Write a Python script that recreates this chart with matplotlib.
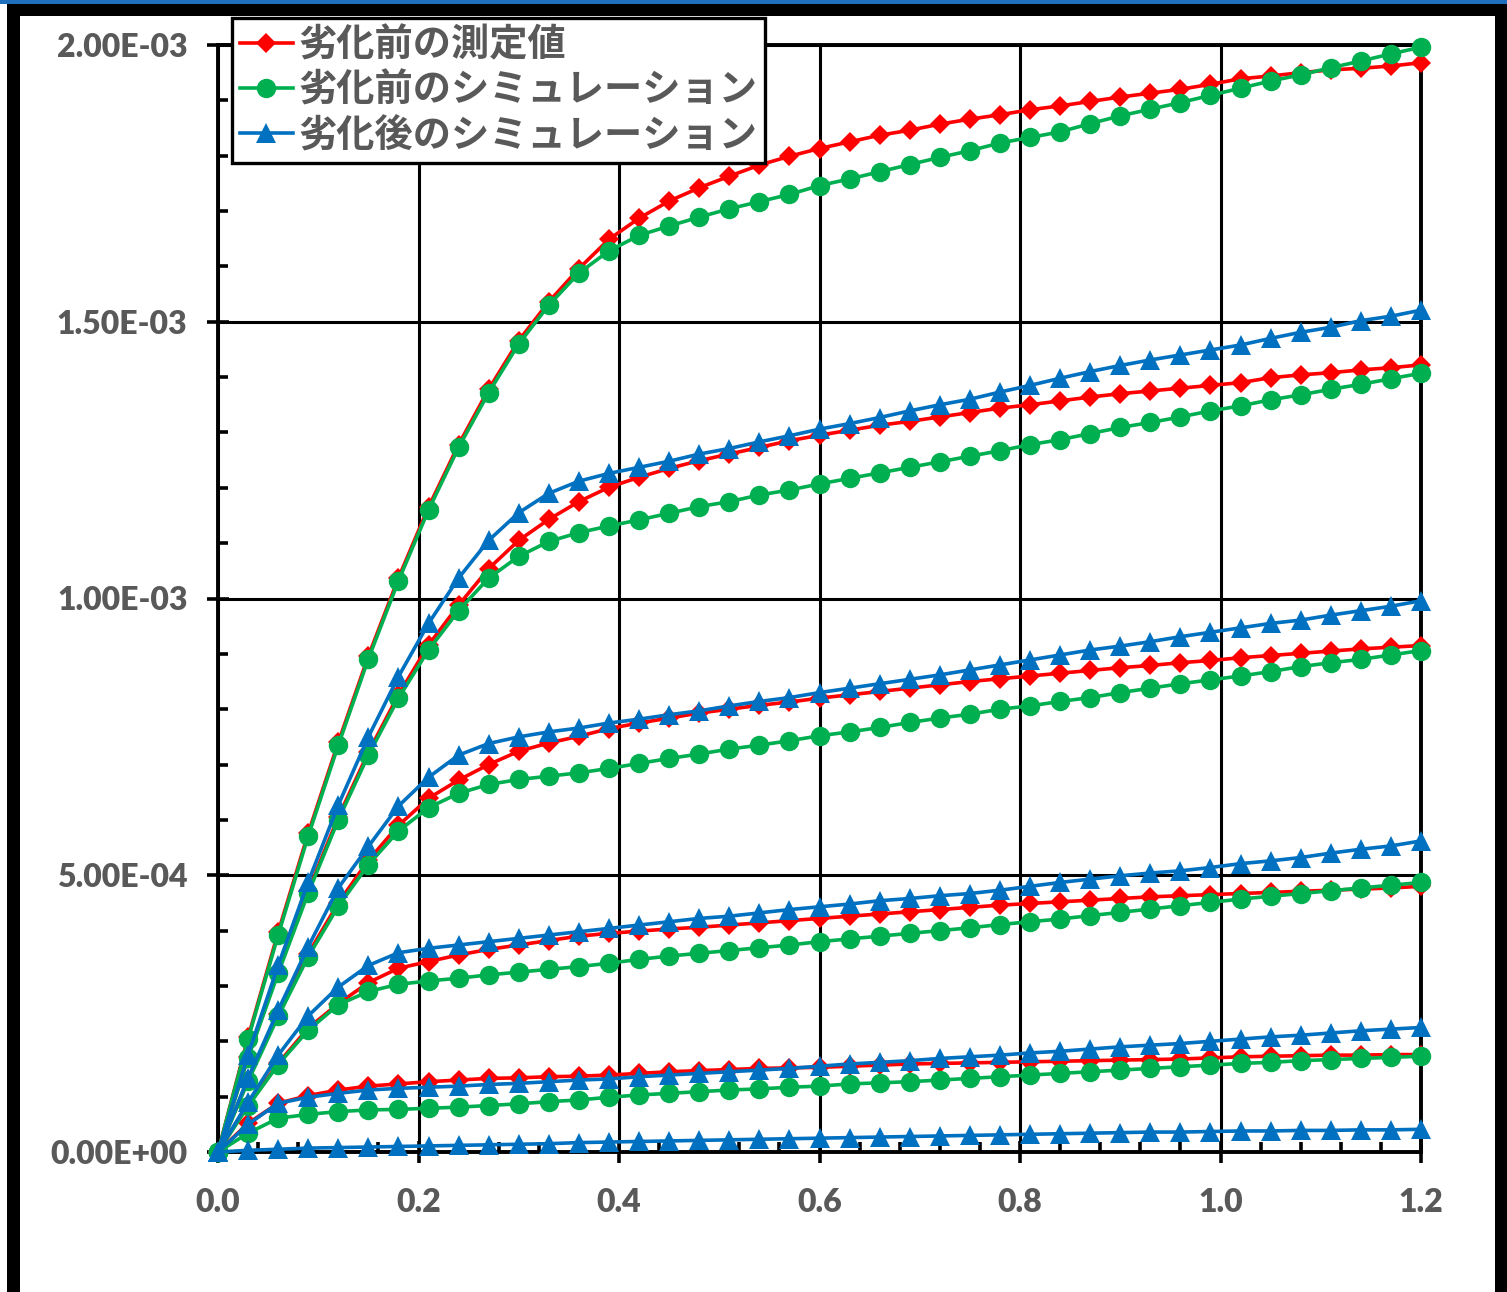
import numpy as np
import matplotlib
matplotlib.use("Agg")
import matplotlib.pyplot as plt
from matplotlib.ticker import MultipleLocator, FixedLocator, FixedFormatter
from matplotlib.patches import Rectangle
from matplotlib.font_manager import FontProperties

plt.rcParams['font.family'] = ['Lato', 'DejaVu Sans']
plt.rcParams['font.weight'] = 'bold'

# ---------------- data (y values in units of 1e-3) ----------------
x = [0.00, 0.03, 0.06, 0.09, 0.12, 0.15, 0.18, 0.21, 0.24, 0.27,
     0.30, 0.33, 0.36, 0.39, 0.42, 0.45, 0.48, 0.51, 0.54, 0.57,
     0.60, 0.63, 0.66, 0.69, 0.72, 0.75, 0.78, 0.81, 0.84, 0.87,
     0.90, 0.93, 0.96, 0.99, 1.02, 1.05, 1.08, 1.11, 1.14, 1.17, 1.20]

# 劣化前の測定値 (red)
meas_1 = [0, 0.207, 0.397, 0.576, 0.740, 0.896, 1.037, 1.165, 1.278, 1.378,
          1.466, 1.536, 1.596, 1.649, 1.687, 1.718, 1.742, 1.763, 1.783, 1.799,
          1.813, 1.825, 1.837, 1.846, 1.857, 1.866, 1.874, 1.883, 1.890, 1.898,
          1.906, 1.913, 1.920, 1.929, 1.939, 1.944, 1.950, 1.955, 1.958, 1.962, 1.968]
meas_2 = [0, 0.172, 0.327, 0.472, 0.605, 0.722, 0.826, 0.916, 0.988, 1.054,
          1.105, 1.143, 1.175, 1.201, 1.219, 1.235, 1.249, 1.261, 1.273, 1.285,
          1.295, 1.304, 1.313, 1.320, 1.328, 1.336, 1.344, 1.350, 1.357, 1.364,
          1.370, 1.375, 1.380, 1.385, 1.390, 1.399, 1.404, 1.408, 1.413, 1.417, 1.422]
meas_3 = [0, 0.130, 0.249, 0.358, 0.450, 0.527, 0.590, 0.639, 0.672, 0.700,
          0.724, 0.739, 0.751, 0.765, 0.775, 0.784, 0.793, 0.800, 0.807, 0.813,
          0.820, 0.826, 0.832, 0.838, 0.844, 0.850, 0.855, 0.860, 0.865, 0.870,
          0.875, 0.879, 0.884, 0.888, 0.893, 0.897, 0.901, 0.905, 0.909, 0.912, 0.915]
meas_4 = [0, 0.085, 0.160, 0.224, 0.268, 0.306, 0.332, 0.344, 0.356, 0.366,
          0.374, 0.382, 0.390, 0.395, 0.399, 0.403, 0.406, 0.410, 0.414, 0.418,
          0.422, 0.426, 0.430, 0.434, 0.438, 0.442, 0.446, 0.449, 0.452, 0.455,
          0.458, 0.461, 0.463, 0.465, 0.467, 0.469, 0.471, 0.473, 0.475, 0.477, 0.480]
meas_5 = [0, 0.052, 0.088, 0.102, 0.112, 0.119, 0.123, 0.127, 0.130, 0.133,
          0.134, 0.136, 0.137, 0.139, 0.142, 0.145, 0.147, 0.149, 0.151, 0.152,
          0.153, 0.155, 0.157, 0.159, 0.160, 0.161, 0.162, 0.163, 0.164, 0.165,
          0.166, 0.167, 0.168, 0.170, 0.172, 0.173, 0.174, 0.175, 0.175, 0.176, 0.176]

# 劣化前のシミュレーション (green)
sim_pre_1 = [0, 0.204, 0.392, 0.571, 0.735, 0.891, 1.032, 1.160, 1.273, 1.372,
             1.460, 1.530, 1.588, 1.628, 1.656, 1.673, 1.689, 1.704, 1.717, 1.730,
             1.746, 1.758, 1.771, 1.784, 1.797, 1.809, 1.823, 1.833, 1.843, 1.858,
             1.872, 1.884, 1.896, 1.909, 1.922, 1.935, 1.946, 1.959, 1.971, 1.984, 1.996]
sim_pre_2 = [0, 0.170, 0.323, 0.468, 0.600, 0.717, 0.820, 0.907, 0.978, 1.037,
             1.076, 1.103, 1.119, 1.131, 1.142, 1.154, 1.166, 1.175, 1.187, 1.196,
             1.207, 1.217, 1.227, 1.237, 1.247, 1.257, 1.267, 1.278, 1.287, 1.298,
             1.309, 1.318, 1.328, 1.339, 1.348, 1.359, 1.368, 1.378, 1.387, 1.397, 1.407]
sim_pre_3 = [0, 0.128, 0.245, 0.353, 0.444, 0.519, 0.580, 0.622, 0.648, 0.664,
             0.673, 0.679, 0.685, 0.693, 0.702, 0.711, 0.719, 0.728, 0.735, 0.743,
             0.752, 0.759, 0.767, 0.776, 0.784, 0.791, 0.800, 0.806, 0.814, 0.821,
             0.830, 0.838, 0.846, 0.853, 0.860, 0.868, 0.877, 0.884, 0.890, 0.898, 0.906]
sim_pre_4 = [0, 0.083, 0.158, 0.220, 0.266, 0.290, 0.303, 0.309, 0.314, 0.320,
             0.325, 0.330, 0.335, 0.341, 0.348, 0.354, 0.359, 0.364, 0.369, 0.374,
             0.380, 0.385, 0.390, 0.395, 0.400, 0.405, 0.411, 0.416, 0.421, 0.427,
             0.433, 0.439, 0.445, 0.451, 0.457, 0.462, 0.467, 0.472, 0.477, 0.482, 0.487]
sim_pre_5 = [0, 0.034, 0.061, 0.068, 0.073, 0.076, 0.077, 0.079, 0.081, 0.084,
             0.087, 0.091, 0.094, 0.099, 0.103, 0.106, 0.109, 0.112, 0.114, 0.117,
             0.119, 0.123, 0.125, 0.127, 0.130, 0.133, 0.136, 0.139, 0.142, 0.145,
             0.148, 0.151, 0.154, 0.157, 0.160, 0.162, 0.165, 0.167, 0.169, 0.171, 0.173]

# 劣化後のシミュレーション (blue)
sim_post_1 = [0, 0.176, 0.337, 0.488, 0.627, 0.750, 0.859, 0.955, 1.037, 1.105,
              1.155, 1.190, 1.212, 1.226, 1.237, 1.248, 1.261, 1.271, 1.283, 1.294,
              1.306, 1.316, 1.327, 1.339, 1.350, 1.360, 1.373, 1.385, 1.398, 1.410,
              1.421, 1.431, 1.440, 1.449, 1.458, 1.470, 1.481, 1.490, 1.502, 1.510, 1.521]
sim_post_2 = [0, 0.134, 0.256, 0.371, 0.477, 0.552, 0.625, 0.677, 0.717, 0.738,
              0.750, 0.759, 0.766, 0.775, 0.782, 0.790, 0.797, 0.806, 0.814, 0.821,
              0.830, 0.838, 0.846, 0.854, 0.862, 0.871, 0.880, 0.889, 0.898, 0.907,
              0.914, 0.922, 0.931, 0.939, 0.947, 0.955, 0.961, 0.970, 0.978, 0.986, 0.996]
sim_post_3 = [0, 0.090, 0.175, 0.246, 0.298, 0.337, 0.360, 0.368, 0.374, 0.380,
              0.386, 0.392, 0.398, 0.404, 0.410, 0.416, 0.422, 0.426, 0.432, 0.438,
              0.443, 0.448, 0.454, 0.458, 0.463, 0.467, 0.473, 0.480, 0.487, 0.493,
              0.499, 0.504, 0.508, 0.514, 0.521, 0.526, 0.532, 0.540, 0.547, 0.553, 0.562]
sim_post_4 = [0, 0.050, 0.088, 0.099, 0.106, 0.112, 0.115, 0.117, 0.119, 0.122,
              0.124, 0.127, 0.130, 0.132, 0.136, 0.139, 0.142, 0.145, 0.148, 0.151,
              0.155, 0.159, 0.162, 0.165, 0.169, 0.172, 0.175, 0.179, 0.182, 0.186,
              0.190, 0.193, 0.196, 0.200, 0.204, 0.208, 0.211, 0.215, 0.219, 0.222, 0.225]
sim_post_5 = [0, 0.003, 0.005, 0.007, 0.008, 0.009, 0.010, 0.011, 0.012, 0.013,
              0.014, 0.015, 0.017, 0.018, 0.019, 0.020, 0.021, 0.022, 0.023, 0.024,
              0.025, 0.026, 0.027, 0.028, 0.029, 0.030, 0.031, 0.032, 0.033, 0.034,
              0.035, 0.036, 0.036, 0.037, 0.038, 0.038, 0.039, 0.039, 0.040, 0.040, 0.041]

series_labels = ["劣化前の測定値", "劣化前のシミュレーション", "劣化後のシミュレーション"]
x_ticks = [0.0, 0.2, 0.4, 0.6, 0.8, 1.0, 1.2]
x_tick_labels = ["0.0", "0.2", "0.4", "0.6", "0.8", "1.0", "1.2"]
y_ticks = [0.0, 5.0e-4, 1.0e-3, 1.5e-3, 2.0e-3]
y_tick_labels = ["0.00E+00", "5.00E-04", "1.00E-03", "1.50E-03", "2.00E-03"]

UNIT = 1e-3
groups = [
    ([meas_1, meas_2, meas_3, meas_4, meas_5], '#FF0000', 'D', 10.0, series_labels[0]),
    ([sim_pre_1, sim_pre_2, sim_pre_3, sim_pre_4, sim_pre_5], '#00B050', 'o', 14.0, series_labels[1]),
    ([sim_post_1, sim_post_2, sim_post_3, sim_post_4, sim_post_5], '#0070C0', '^', 14.0, series_labels[2]),
]

W, H = 1507, 1292
fig = plt.figure(figsize=(W / 100, H / 100), dpi=100)
fig.patch.set_facecolor('white')

# outer window frame
fig.add_artist(Rectangle((0, 1 - 4 / H), 1, 4 / H, transform=fig.transFigure,
                         facecolor='#1F6FBF', edgecolor='none', zorder=0))
fig.add_artist(Rectangle((7 / W, 1 - 16 / H), 1 - 7 / W, 12 / H, transform=fig.transFigure,
                         facecolor='black', edgecolor='none', zorder=0))
fig.add_artist(Rectangle((7 / W, 0), 13 / W, 1 - 4 / H, transform=fig.transFigure,
                         facecolor='black', edgecolor='none', zorder=0))
fig.add_artist(Rectangle((1495 / W, 0), 12 / W, 1 - 4 / H, transform=fig.transFigure,
                         facecolor='black', edgecolor='none', zorder=0))

ax = fig.add_axes([218 / W, 1 - 1152 / H, (1421 - 218) / W, (1152 - 45) / H])

handles = []
for curves, color, marker, ms, label in groups:
    for i, c in enumerate(curves):
        ln, = ax.plot(x, np.array(c) * UNIT, color=color, lw=2.6, marker=marker,
                      markersize=ms, markeredgewidth=0, clip_on=False, zorder=3,
                      label=label if i == 0 else None)
        if i == 0:
            handles.append(ln)

ax.set_xlim(0, 1.2)
ax.set_ylim(0, 2.0e-3)
ax.xaxis.set_major_locator(FixedLocator(x_ticks))
ax.xaxis.set_major_formatter(FixedFormatter(x_tick_labels))
ax.yaxis.set_major_locator(FixedLocator(y_ticks))
ax.yaxis.set_major_formatter(FixedFormatter(y_tick_labels))
ax.xaxis.set_minor_locator(MultipleLocator(0.04))
ax.yaxis.set_minor_locator(MultipleLocator(1.0e-4))

ax.grid(which='major', color='black', linewidth=2.2, zorder=1)
ax.set_axisbelow(True)
for sp in ax.spines.values():
    sp.set_color('black')
    sp.set_linewidth(2.8)

ax.tick_params(which='major', direction='inout', length=16, width=2.6, color='black',
               labelsize=23, labelcolor='#595959')
ax.tick_params(axis='y', which='major', pad=14)
ax.tick_params(axis='x', which='major', pad=18)
ax.tick_params(which='minor', direction='in', length=7, width=2.6, color='black')
for lab in ax.get_xticklabels() + ax.get_yticklabels():
    lab.set_fontweight('heavy')

leg_font = FontProperties(family=['Noto Sans CJK JP', 'DejaVu Sans'], weight='bold', size=27.5)
leg = ax.legend(handles=handles, loc='upper left', bbox_to_anchor=(232 / W, 1 - 18 / H),
                bbox_transform=fig.transFigure, prop=leg_font, frameon=True, fancybox=False,
                edgecolor='black', framealpha=1, borderaxespad=0, borderpad=0.2,
                handlelength=1.4, handletextpad=0.15, labelspacing=0.16)
leg.get_frame().set_linewidth(2.4)
for t in leg.get_texts():
    t.set_color('#595959')
leg.set_zorder(10)

fig.savefig('out.png', dpi=100, facecolor='white')
